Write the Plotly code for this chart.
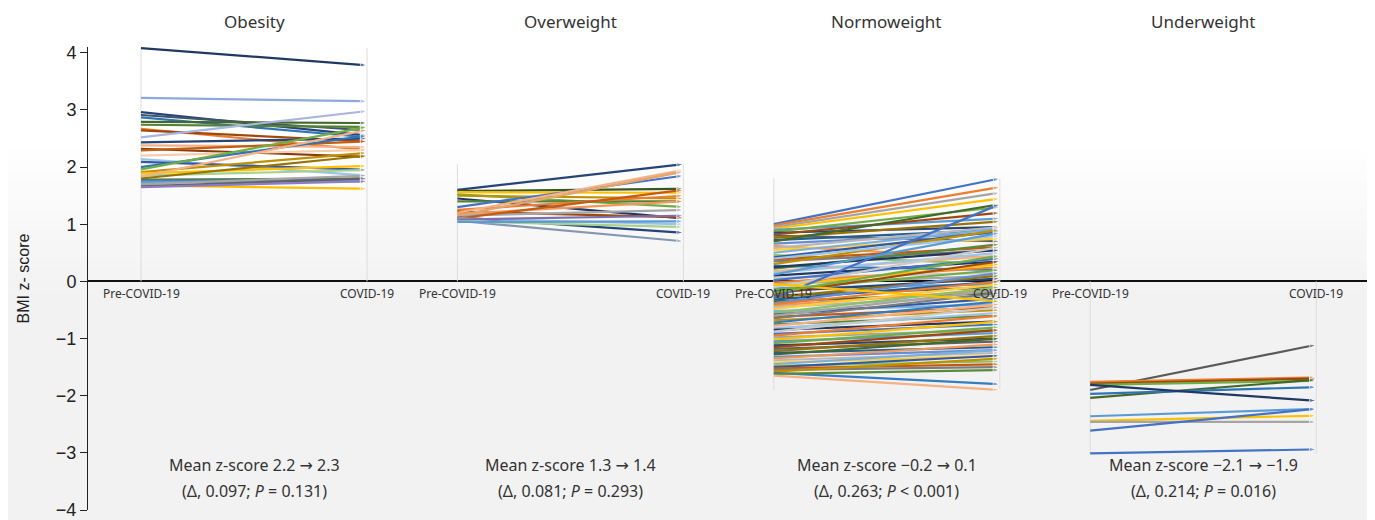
import plotly.graph_objects as go

# ---------------- data ----------------
panels = ["Obesity", "Overweight", "Normoweight", "Underweight"]
time_labels = ["Pre-COVID-19", "COVID-19"]

obesity_pre = [4.08, 3.21, 2.96, 2.91, 2.87, 2.79, 2.74, 2.67, 2.64, 2.52, 2.43, 2.38, 2.32, 2.29, 2.20,
               2.14, 2.09, 2.00, 1.96, 1.91, 1.89, 1.85, 1.83, 1.80, 1.78, 1.76, 1.74, 1.68, 1.70, 1.66, 1.65]
obesity_post = [3.78, 3.15, 2.55, 2.64, 2.52, 2.77, 2.70, 2.30, 2.45, 2.98, 2.50, 2.35, 2.18, 2.45, 2.30,
                1.85, 1.95, 2.55, 2.70, 2.25, 2.02, 1.95, 2.65, 2.20, 1.80, 1.78, 1.75, 1.62, 1.85, 1.80, 1.75]

overweight_pre = [1.60, 1.58, 1.56, 1.52, 1.50, 1.45, 1.40, 1.30, 1.25, 1.22, 1.20, 1.18, 1.15, 1.12,
                  1.10, 1.10, 1.08, 1.06, 1.05, 1.04, 1.15]
overweight_post = [2.05, 1.62, 1.55, 1.30, 1.45, 1.10, 1.40, 1.85, 1.50, 1.12, 1.95, 1.40, 1.25, 0.85,
                   1.60, 1.00, 1.15, 0.70, 0.95, 1.05, 1.92]

normoweight_pre = [1.00, 0.98, 0.95, 0.92, 0.90, 0.87, 0.85, 0.82, 0.80, 0.76, 0.72, 0.70, 0.66, 0.62,
                   0.58, 0.55, 0.50, 0.46, 0.42, 0.38, 0.35, 0.30, 0.27, 0.22, 0.18, 0.15, 0.10, 0.06,
                   0.02, -0.02, -0.05, -0.08, -0.12, -0.15, -0.18, -0.22, -0.25, -0.28, -0.32, -0.35,
                   -0.38, -0.42, -0.45, -0.48, -0.52, -0.55, -0.58, -0.62, -0.65, -0.68, -0.72, -0.75,
                   -0.78, -0.82, -0.85, -0.88, -0.92, -0.95, -0.98, -1.02, -1.05, -1.08, -1.12, -1.15,
                   -1.18, -1.22, -1.25, -1.28, -1.32, -1.35, -1.38, -1.42, -1.45, -1.48, -1.50, -1.52,
                   -1.55, -1.58, -1.60, -1.62, -1.65, 0.40, 0.25, -0.10, -0.30, -0.40, -0.60, -0.05,
                   0.12, -0.20]
normoweight_post = [1.80, 1.65, 1.55, 1.45, 1.10, 1.30, 0.95, 1.20, 0.70, 1.05, 0.90, 1.35, 0.85, 0.40,
                    0.95, 0.75, 0.92, 0.30, 0.88, 0.60, 0.55, 0.90, 0.20, 0.65, 0.45, 0.50, 0.35, 0.15,
                    0.40, 0.25, 0.10, 0.30, -0.05, 0.20, 0.05, 0.35, -0.10, 0.10, 0.00, -0.20,
                    0.15, -0.15, -0.25, -0.05, -0.40, -0.10, -0.30, -0.45, -0.20, -0.50, -0.35, -0.60,
                    -0.40, -0.55, -0.70, -0.45, -0.75, -0.60, -0.85, -0.70, -0.90, -0.80, -1.00, -0.85,
                    -1.05, -0.95, -1.15, -1.00, -1.20, -1.10, -1.25, -1.30, -1.20, -1.40, -1.30, -1.45,
                    -1.50, -1.35, -1.80, -1.55, -1.90, 0.80, 0.55, 0.60, 1.35, 0.00, -0.15, -0.35,
                    0.85, 0.45]

underweight_pre = [-1.90, -1.76, -1.79, -1.81, -2.04, -1.97, -1.81, -2.36, -2.44, -2.46, -2.61, -3.01]
underweight_post = [-1.11, -1.68, -1.70, -1.74, -1.72, -1.85, -2.09, -2.23, -2.35, -2.46, -2.23, -2.94]

ARROW = '<span style="font-family:DejaVu Sans">\u2192</span>'
stats_line1 = ["Mean z-score 2.2 " + ARROW + " 2.3", "Mean z-score 1.3 " + ARROW + " 1.4",
               "Mean z-score \u22120.2 " + ARROW + " 0.1", "Mean z-score \u22122.1 " + ARROW + " \u22121.9"]
stats_line2 = ["(\u0394, 0.097; <i>P</i> = 0.131)", "(\u0394, 0.081; <i>P</i> = 0.293)",
               "(\u0394, 0.263; <i>P</i> &lt; 0.001)", "(\u0394, 0.214; <i>P</i> = 0.016)"]

y_ticks = [4, 3, 2, 1, 0, -1, -2, -3, -4]

# ---------------- styles ----------------
obesity_colors = ["#203864", "#8DA9DB", "#264478", "#44546A", "#2E75B6", "#43682B", "#548235", "#ED7D31",
                  "#9E480E", "#A9B4E0", "#264478", "#F4B183", "#843C0C", "#C55A11", "#F8CBAD", "#9DC3E6",
                  "#335AA1", "#2E75B6", "#70AD47", "#BF9000", "#FFC000", "#A9D18E", "#F4B183", "#997300",
                  "#548235", "#4472C4", "#5B9BD5", "#FFC000", "#A5A5A5", "#636363", "#8E7CC3"]
overweight_colors = ["#264478", "#385723", "#FFC000", "#70AD47", "#BF9000", "#203864", "#548235", "#4472C4",
                     "#ED7D31", "#9E480E", "#F4B183", "#F1975A", "#A5A5A5", "#264478", "#C55A11", "#9DC3E6",
                     "#7E6FA8", "#8497B0", "#A9D18E", "#5B9BD5", "#E2A46F"]
underweight_colors = ["#595959", "#ED7D31", "#9E480E", "#70AD47", "#43682B", "#2E75B6", "#203864",
                      "#5B9BD5", "#FFC000", "#A5A5A5", "#4472C4", "#4472C4"]
cycle_colors = ["#4472C4", "#ED7D31", "#A5A5A5", "#FFC000", "#5B9BD5", "#70AD47", "#264478", "#9E480E",
                "#636363", "#997300", "#255E91", "#43682B", "#698ED0", "#F1975A", "#B7B7B7", "#FFCD33",
                "#7CAFDD", "#8CC168", "#335AA1", "#C65911", "#7C7C7C", "#BF9000", "#327DC2", "#5A8A39",
                "#F4B183", "#9DC3E6", "#203864", "#C9C9C9"]
normoweight_colors = [cycle_colors[i % len(cycle_colors)] for i in range(len(normoweight_pre))]

series = [
    (obesity_pre, obesity_post, obesity_colors),
    (overweight_pre, overweight_post, overweight_colors),
    (normoweight_pre, normoweight_post, normoweight_colors),
    (underweight_pre, underweight_post, underweight_colors),
]

GAP = 1.4  # panel spacing in x units (pre at 0, COVID at 1)
text_color = "#333333"
sans = "Noto Sans, Open Sans, sans-serif"

fig = go.Figure()

# background gradient (white at top -> light gray lower down); p = page pixel row
PLOT_BOTTOM = 510.0
H_PLOT = 463.0
def pix_to_paper(p):
    return (PLOT_BOTTOM - p) / H_PLOT

fig.add_shape(type="rect", xref="paper", yref="paper", x0=-0.08, x1=1.01,
              y0=pix_to_paper(530), y1=pix_to_paper(300), fillcolor="#f2f2f2", line_width=0, layer="below")
n_bands = 16
for k in range(n_bands):
    top = 140 + k * (160 / n_bands)
    bot = top + 160 / n_bands + 0.5
    g = int(round(255 - (255 - 242) * (k + 0.5) / n_bands))
    fig.add_shape(type="rect", xref="paper", yref="paper", x0=-0.08, x1=1.01,
                  y0=pix_to_paper(bot), y1=pix_to_paper(top),
                  fillcolor=f"rgb({g},{g},{g})", line_width=0, layer="below")

# vertical guide lines at each time point
for i, (pre, post, cols) in enumerate(series):
    lo = min(0, min(pre + post))
    hi = max(0, max(pre + post))
    for xx in (i * GAP, i * GAP + 1):
        fig.add_trace(go.Scatter(x=[xx, xx], y=[lo, hi], mode="lines",
                                 line=dict(color="#dcdcdc", width=1),
                                 hoverinfo="skip", showlegend=False))

# spaghetti lines with arrowheads
for i, (pre, post, cols) in enumerate(series):
    for a, b, c in zip(pre, post, cols):
        fig.add_trace(go.Scatter(
            x=[i * GAP, i * GAP + 1], y=[a, b], mode="lines+markers",
            line=dict(color=c, width=2.2),
            marker=dict(symbol="arrow", size=[0, 7], angleref="previous", color=c),
            showlegend=False, hoverinfo="skip", cliponaxis=False))

annotations = []
for i, name in enumerate(panels):
    annotations.append(dict(x=i * GAP + 0.5, y=1.054, xref="x", yref="paper", text=name,
                            showarrow=False, font=dict(family=sans, size=17, color=text_color),
                            yanchor="middle"))
    for j, lab in enumerate(time_labels):
        annotations.append(dict(x=i * GAP + j, y=0, xref="x", yref="y", text=lab, showarrow=False,
                                yanchor="top", yshift=-2,
                                font=dict(family=sans, size=12, color=text_color)))
    annotations.append(dict(x=i * GAP + 0.5, y=-3.22, xref="x", yref="y", text=stats_line1[i],
                            showarrow=False, yanchor="middle",
                            font=dict(family=sans, size=16, color=text_color)))
    annotations.append(dict(x=i * GAP + 0.5, y=-3.66, xref="x", yref="y", text=stats_line2[i],
                            showarrow=False, yanchor="middle",
                            font=dict(family=sans, size=16, color=text_color)))

# The page body has an 8px default margin, so the figure is sized 8px smaller
# and offset accordingly to land on the same page pixels.
fig.update_layout(
    width=1367, height=512,
    margin=dict(l=80, r=0, t=39, b=10, autoexpand=False),
    paper_bgcolor="white",
    plot_bgcolor="rgba(0,0,0,0)",
    showlegend=False,
    annotations=annotations,
    xaxis=dict(range=[-0.2345, 5.46], visible=False, fixedrange=True, automargin=False),
    yaxis=dict(range=[-4, 4.1], tickvals=y_ticks, showgrid=False, automargin=False,
               ticklabeloverflow="allow",
               showline=True, linecolor="#222222", linewidth=1,
               ticks="outside", ticklen=7, tickcolor="#222222",
               tickfont=dict(family="Liberation Sans, Arial, sans-serif", size=18, color="#222222"),
               zeroline=True, zerolinecolor="#111111", zerolinewidth=1.5,
               title=dict(text="BMI z- score", standoff=22,
                          font=dict(family="Liberation Sans, Arial, sans-serif", size=16, color="#222222"))),
)

fig.write_html("out.html")
